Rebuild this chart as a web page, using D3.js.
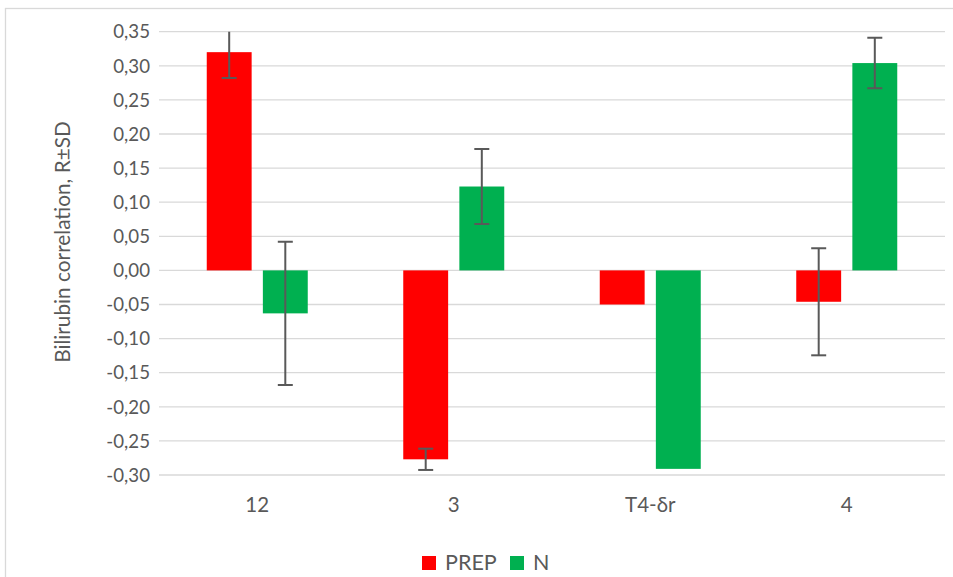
<!DOCTYPE html>
<html><head><meta charset="utf-8">
<script src="https://cdn.jsdelivr.net/npm/d3@7"></script>
<style>body{margin:0;background:#fff}svg text{font-family:Lato,sans-serif;fill:#595959}</style>
</head><body><svg id="c" width="953" height="577"></svg>
<script>
const categories = ["12", "3", "T4-δr", "4"];
const seriesNames = ["PREP", "N"];
const prepValues = [0.320, -0.277, -0.050, -0.046];
const nValues = [-0.063, 0.123, -0.291, 0.304];
const prepSD = [0.038, 0.0156, null, 0.0785];
const nSD = [0.105, 0.055, null, 0.037];
const colors = ["#ff0000", "#00b050"];
const yTicks = [0.35,0.30,0.25,0.20,0.15,0.10,0.05,0.00,-0.05,-0.10,-0.15,-0.20,-0.25,-0.30];

const svg = d3.select("#c");
const L = 159, R = 945, T = 31.7, B = 475;
svg.append("rect").attr("x",5.5).attr("y",8.5).attr("width",960).attr("height",600)
  .attr("fill","#fff").attr("stroke","#d9d9d9").attr("stroke-width",1.3);

const y = d3.scaleLinear().domain([-0.30,0.35]).range([B,T]);
const x = d3.scaleBand().domain(categories).range([L,R]);
const inner = d3.scaleBand().domain(seriesNames).range([-50.5,50.5]).paddingInner(0.2);

const fmt = v => d3.format(".2f")(v).replace(".",",").replace("−","-");
const g = svg.append("g");
g.selectAll("line.grid").data(yTicks).join("line").attr("class","grid")
  .attr("x1",L).attr("x2",R).attr("y1",d=>y(d)).attr("y2",d=>y(d))
  .attr("stroke","#d9d9d9").attr("stroke-width",1.3);
g.selectAll("text.yt").data(yTicks).join("text").attr("class","yt")
  .attr("x",150).attr("y",d=>y(d)).attr("dy","0.36em").attr("text-anchor","end")
  .attr("font-size",18.67).text(d=>fmt(d===0?0:d));

const data = [];
categories.forEach((c,i)=>{
  data.push({c, s:"PREP", v:prepValues[i], sd:prepSD[i], col:colors[0]});
  data.push({c, s:"N", v:nValues[i], sd:nSD[i], col:colors[1]});
});
const y0 = y(0);
svg.selectAll("rect.bar").data(data).join("rect").attr("class","bar")
  .attr("x",d=>x(d.c)+x.bandwidth()/2+inner(d.s))
  .attr("width",inner.bandwidth())
  .attr("y",d=>Math.min(y(d.v),y0)).attr("height",d=>Math.abs(y(d.v)-y0))
  .attr("fill",d=>d.col);

const eb = data.filter(d=>d.sd!=null);
svg.append("clipPath").attr("id","pc").append("rect").attr("x",L).attr("y",T).attr("width",R-L).attr("height",B-T+20);
const eg = svg.append("g").attr("clip-path","url(#pc)");
eb.forEach(d=>{
  const cx = x(d.c)+x.bandwidth()/2+inner(d.s)+inner.bandwidth()/2;
  const hi = d.v + d.sd, lo = d.v - d.sd;
  eg.append("line").attr("x1",cx).attr("x2",cx).attr("y1",y(hi)).attr("y2",y(lo)).attr("stroke","#595959").attr("stroke-width",2);
  [hi,lo].forEach(v=>{
    if (v <= 0.35) eg.append("line").attr("x1",cx-7.5).attr("x2",cx+7.5).attr("y1",y(v)).attr("y2",y(v)).attr("stroke","#595959").attr("stroke-width",2);
  });
});

svg.selectAll("text.xt").data(categories).join("text").attr("class","xt")
  .attr("x",d=>x(d)+x.bandwidth()/2).attr("y",504.5).attr("dy","0.36em")
  .attr("text-anchor","middle").attr("font-size",20.5).text(d=>d);

svg.append("text").attr("transform","translate(62,242) rotate(-90)")
  .attr("text-anchor","middle").attr("dy","0.36em").attr("font-size",20.8)
  .text("Bilirubin correlation, R±SD");

const leg = svg.append("g");
const legX = [422, 510];
seriesNames.forEach((s,i)=>{
  leg.append("rect").attr("x",legX[i]).attr("y",556).attr("width",14).attr("height",14).attr("fill",colors[i]);
  leg.append("text").attr("x",legX[i]+23).attr("y",562).attr("dy","0.36em").attr("font-size",21.5).text(s);
});
</script></body></html>
